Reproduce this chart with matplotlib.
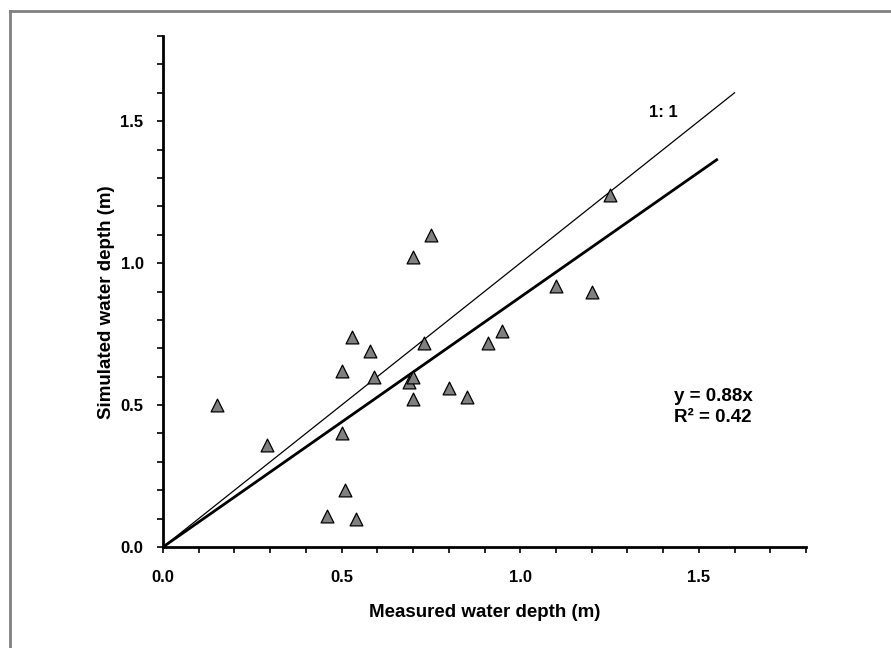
#!/usr/bin/env python3
"""Measured vs simulated water depth scatter with 1:1 and regression lines."""
import matplotlib
matplotlib.use("Agg")
import matplotlib.pyplot as plt
from matplotlib.lines import Line2D
from matplotlib.ticker import MultipleLocator

plt.rcParams["font.family"] = ["Liberation Sans", "DejaVu Sans"]

measured = [0.15, 0.29, 0.46, 0.50, 0.50, 0.51, 0.53, 0.54, 0.58, 0.59, 0.69, 0.70,
            0.70, 0.70, 0.73, 0.75, 0.80, 0.85, 0.91, 0.95, 1.10, 1.20, 1.25]
simulated = [0.50, 0.36, 0.11, 0.62, 0.40, 0.20, 0.74, 0.10, 0.69, 0.60, 0.58, 0.60,
             0.52, 1.02, 0.72, 1.10, 0.56, 0.53, 0.72, 0.76, 0.92, 0.90, 1.24]
slope = 0.88
r2 = 0.42
one_to_one_end = 1.6
fit_end = 1.55
ticks = [0.0, 0.5, 1.0, 1.5]

fig = plt.figure(figsize=(8.91, 6.48), dpi=100)
ax = fig.add_axes([163 / 891, 1 - 547 / 648, (806 - 163) / 891, (547 - 36) / 648])

ax.plot([0, one_to_one_end], [0, one_to_one_end], color="black", lw=0.9, zorder=2)
ax.plot([0, fit_end], [0, slope * fit_end], color="black", lw=2.0, zorder=2)
ax.scatter(measured, simulated, marker="^", s=85, facecolor="#808080",
           edgecolor="black", linewidth=0.9, zorder=3)

ax.text(1.40, 1.53, "1: 1", fontsize=12, fontweight="bold", ha="center", va="center")
ax.text(1.43, 0.53, f"y = {slope}x", fontsize=13.5, fontweight="bold", ha="left", va="center")
ax.text(1.43, 0.455, f"R² = {r2}", fontsize=13.5, fontweight="bold", ha="left", va="center")

ax.set_xlim(0, 1.8)
ax.set_ylim(0, 1.8)
ax.set_xticks(ticks)
ax.set_yticks(ticks)
ax.set_xticklabels([f"{t:.1f}" for t in ticks])
ax.set_yticklabels([f"{t:.1f}" for t in ticks])
ax.xaxis.set_minor_locator(MultipleLocator(0.1))
ax.yaxis.set_minor_locator(MultipleLocator(0.1))
ax.tick_params(which="both", direction="out", length=4.5, width=1.2, colors="black")
ax.tick_params(axis="x", which="major", labelsize=12, pad=12)
ax.tick_params(axis="y", which="major", labelsize=12, pad=9.5)
for lab in ax.get_xticklabels() + ax.get_yticklabels():
    lab.set_fontweight("bold")

for side in ["top", "right"]:
    ax.spines[side].set_visible(False)
for side in ["left", "bottom"]:
    ax.spines[side].set_linewidth(2.0)

ax.set_xlabel("Measured water depth (m)", fontsize=13.5, fontweight="bold", labelpad=14)
ax.set_ylabel("Simulated water depth (m)", fontsize=13.5, fontweight="bold")
ax.yaxis.set_label_coords(-0.075, 0.48)

# grey frame visible on the top and left edges
fig.add_artist(Line2D([9.5 / 891, 1.0], [1 - 10.5 / 648, 1 - 10.5 / 648],
                      transform=fig.transFigure, color="#808080", lw=2))
fig.add_artist(Line2D([9.5 / 891, 9.5 / 891], [0.0, 1 - 10.5 / 648],
                      transform=fig.transFigure, color="#808080", lw=2))

fig.savefig("out.png", dpi=100)
